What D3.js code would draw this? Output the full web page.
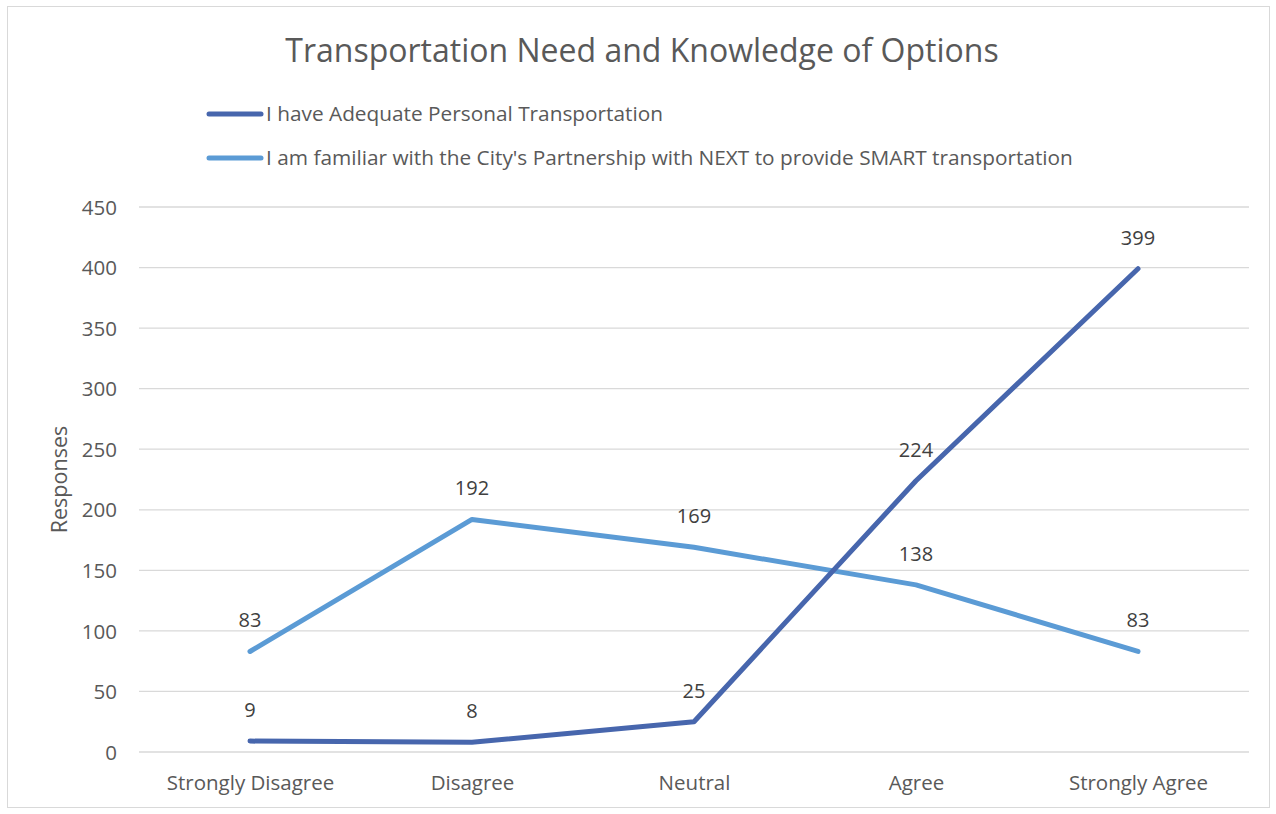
<!DOCTYPE html>
<html>
<head>
<meta charset="utf-8">
<script src="https://cdn.jsdelivr.net/npm/d3@7"></script>
<style>
  body { margin: 0; background: #fff; }
  text { font-family: "Open Sans", "Liberation Sans", sans-serif; fill: #595959; }
</style>
</head>
<body>
<script>
const categories = ["Strongly Disagree", "Disagree", "Neutral", "Agree", "Strongly Agree"];
const seriesNames = [
  "I have Adequate Personal Transportation",
  "I am familiar with the City's Partnership with NEXT to provide SMART transportation"
];
const adequateTransport = [9, 8, 25, 224, 399];
const familiarWithNext = [83, 192, 169, 138, 83];
const yTicks = [0, 50, 100, 150, 200, 250, 300, 350, 400, 450];
const colors = ["#4766AD", "#5B9BD5"];

const w = 1276, h = 814;
const plotLeft = 139, plotRight = 1249, plotTop = 207, plotBottom = 752;

const svg = d3.select("body").append("svg")
  .attr("width", w)
  .attr("height", h);

// chart border
svg.append("rect")
  .attr("x", 7.5).attr("y", 6.5)
  .attr("width", w - 14).attr("height", h - 13)
  .attr("fill", "none")
  .attr("stroke", "#d9d9d9");

const x = d3.scalePoint()
  .domain(categories)
  .range([plotLeft, plotRight])
  .padding(0.5);

const y = d3.scaleLinear()
  .domain([0, 450])
  .range([plotBottom, plotTop]);

// gridlines
svg.append("g")
  .selectAll("line")
  .data(yTicks)
  .enter()
  .append("line")
  .attr("x1", plotLeft).attr("x2", plotRight)
  .attr("y1", d => y(d)).attr("y2", d => y(d))
  .attr("stroke", "#d9d9d9")
  .attr("stroke-width", 1.3);

// y axis labels
const yAxis = d3.axisLeft(y).tickValues(yTicks).tickSize(0).tickPadding(0);
svg.append("g")
  .attr("transform", `translate(${plotLeft - 22}, 0)`)
  .call(yAxis)
  .call(g => g.select(".domain").remove())
  .call(g => g.selectAll("text")
    .attr("font-family", null)
    .style("font-size", "20.5px")
    .attr("dy", "0.35em"));

// x axis labels
const xAxis = d3.axisBottom(x).tickSize(0).tickPadding(0);
svg.append("g")
  .attr("transform", `translate(0, ${plotBottom + 23})`)
  .call(xAxis)
  .call(g => g.select(".domain").remove())
  .call(g => g.selectAll("text")
    .attr("font-family", null)
    .style("font-size", "20.5px"));

// axis title
svg.append("text")
  .attr("transform", "rotate(-90)")
  .attr("x", -(plotTop + plotBottom) / 2)
  .attr("y", 67)
  .attr("text-anchor", "middle")
  .style("font-size", "21.5px")
  .text("Responses");

// title
svg.append("text")
  .attr("x", 642)
  .attr("y", 62)
  .attr("text-anchor", "middle")
  .style("font-size", "32px")
  .text("Transportation Need and Knowledge of Options");

// lines
const line = d3.line()
  .x((d, i) => x(categories[i]))
  .y(d => y(d));

const allSeries = [adequateTransport, familiarWithNext];

// light series underneath, dark on top
[1, 0].forEach(s => {
  svg.append("path")
    .datum(allSeries[s])
    .attr("d", line)
    .attr("fill", "none")
    .attr("stroke", colors[s])
    .attr("stroke-width", 5)
    .attr("stroke-linecap", "round")
    .attr("stroke-linejoin", "round");
});

// data labels
allSeries.forEach(series => {
  svg.append("g")
    .selectAll("text")
    .data(series)
    .enter()
    .append("text")
    .attr("x", (d, i) => x(categories[i]))
    .attr("y", d => y(d) - 31)
    .attr("dy", "0.35em")
    .attr("text-anchor", "middle")
    .style("font-size", "20px")
    .style("fill", "#404040")
    .text(d => d);
});

// legend
const legend = svg.append("g");
seriesNames.forEach((name, i) => {
  const ly = 114 + i * 44;
  legend.append("line")
    .attr("x1", 209).attr("x2", 261)
    .attr("y1", ly).attr("y2", ly)
    .attr("stroke", colors[i])
    .attr("stroke-width", 5)
    .attr("stroke-linecap", "round");
  legend.append("text")
    .attr("x", 266)
    .attr("y", ly)
    .attr("dy", "0.35em")
    .style("font-size", "20.8px")
    .text(name);
});
</script>
</body>
</html>
